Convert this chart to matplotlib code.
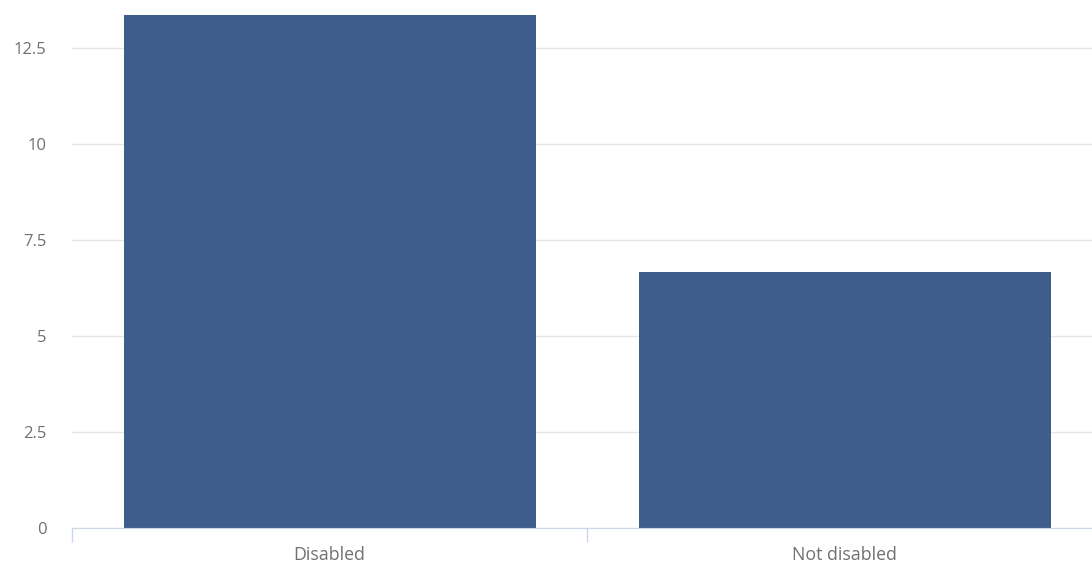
import matplotlib
matplotlib.use("Agg")
import matplotlib.pyplot as plt
from matplotlib.ticker import FixedLocator

# data
categories = ["Disabled", "Not disabled"]
values = [13.36, 6.67]
y_ticks = [0, 2.5, 5, 7.5, 10, 12.5]
y_labels = ["0", "2.5", "5", "7.5", "10", "12.5"]

plt.rcParams['font.family'] = ['Open Sans', 'DejaVu Sans']

W, H = 1092, 563
fig = plt.figure(figsize=(W / 100, H / 100), dpi=100)
# plot area in pixels: left 72, right 1102 (runs off the edge), top 15, bottom 528
ax = fig.add_axes([72 / W, (H - 528) / H, (1102 - 72) / W, (528 - 15) / H])

x = list(range(len(categories)))
ax.bar(x, values, width=0.8, color="#3d5d8c", zorder=3)

ax.set_xlim(-0.5, len(categories) - 0.5)
ax.set_ylim(0, (528 - 15) / 38.4)

ax.set_yticks(y_ticks)
ax.set_yticklabels(y_labels)
ax.yaxis.grid(True, color="#e6e6e6", linewidth=1, zorder=0)
ax.tick_params(axis="y", length=0, pad=18.5, labelsize=12, labelcolor="#707070")

ax.set_xticks(x)
ax.set_xticklabels(categories)
ax.tick_params(axis="x", which="major", length=0, pad=13, labelsize=12.8, labelcolor="#707070")
ax.xaxis.set_minor_locator(FixedLocator([i - 0.5 for i in range(len(categories) + 1)]))
ax.tick_params(axis="x", which="minor", length=10, width=1, color="#ccd6eb")

for s in ["top", "right", "left"]:
    ax.spines[s].set_visible(False)
ax.spines["bottom"].set_color("#ccd6eb")
ax.spines["bottom"].set_zorder(4)

fig.savefig("out.png", dpi=100)
